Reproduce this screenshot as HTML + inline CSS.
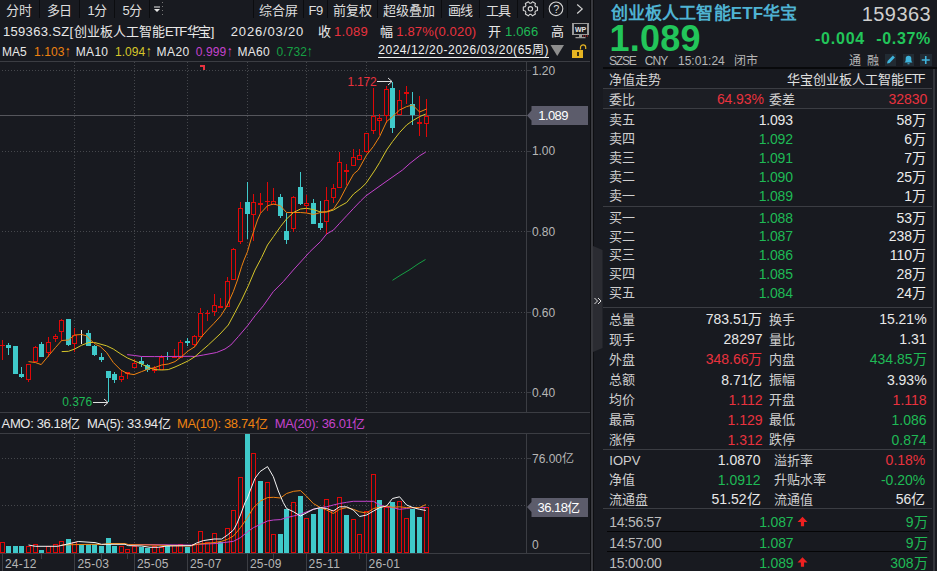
<!DOCTYPE html>
<html lang="zh-CN"><head><meta charset="utf-8"><title>159363.SZ</title>
<style>
html,body{margin:0;padding:0;background:#181a20;}
body{width:937px;height:571px;overflow:hidden;position:relative;font-family:"Liberation Sans",sans-serif;}
#app{position:absolute;left:0;top:0;width:937px;height:571px;background:#181a20;overflow:hidden;}
#app svg{position:absolute;left:0;top:0;}
#app span{position:absolute;white-space:nowrap;}
</style></head><body><div id="app">
<svg width="937" height="571" viewBox="0 0 937 571" shape-rendering="crispEdges">
<rect x="39" y="0" width="1" height="18" fill="#0b0c0f" />
<rect x="79" y="0" width="1" height="18" fill="#0b0c0f" />
<rect x="114" y="0" width="1" height="18" fill="#0b0c0f" />
<rect x="149" y="0" width="1" height="18" fill="#0b0c0f" />
<rect x="253" y="0" width="1" height="18" fill="#0b0c0f" />
<rect x="303" y="0" width="1" height="18" fill="#0b0c0f" />
<rect x="327" y="0" width="1" height="18" fill="#0b0c0f" />
<rect x="377" y="0" width="1" height="18" fill="#0b0c0f" />
<rect x="441" y="0" width="1" height="18" fill="#0b0c0f" />
<rect x="479" y="0" width="1" height="18" fill="#0b0c0f" />
<rect x="517" y="0" width="1" height="18" fill="#0b0c0f" />
<rect x="543" y="0" width="1" height="18" fill="#0b0c0f" />
<rect x="567" y="0" width="1" height="18" fill="#0b0c0f" />
<rect x="0" y="61" width="590" height="1" fill="#3b3d43" />
<rect x="0" y="412" width="590" height="1" fill="#3b3d43" />
<rect x="0" y="433" width="590" height="1" fill="#3b3d43" />
<rect x="0" y="553" width="590" height="1" fill="#3b3d43" />
<rect x="526" y="61" width="1" height="351" fill="#3b3d43" />
<rect x="526" y="433" width="1" height="120" fill="#3b3d43" />
<rect x="590" y="0" width="1" height="571" fill="#0d0e11" />
<rect x="591" y="0" width="2" height="571" fill="#38393e" />
<rect x="593" y="0" width="1" height="571" fill="#0d0e11" />
<line x1="-1" y1="70.5" x2="526" y2="70.5" stroke="#45474c" stroke-width="1" stroke-dasharray="1 2"/>
<rect x="526" y="70" width="5" height="1" fill="#3b3d43" />
<line x1="-1" y1="151.5" x2="526" y2="151.5" stroke="#45474c" stroke-width="1" stroke-dasharray="1 2"/>
<rect x="526" y="151" width="5" height="1" fill="#3b3d43" />
<line x1="-1" y1="231.5" x2="526" y2="231.5" stroke="#45474c" stroke-width="1" stroke-dasharray="1 2"/>
<rect x="526" y="231" width="5" height="1" fill="#3b3d43" />
<line x1="-1" y1="312.5" x2="526" y2="312.5" stroke="#45474c" stroke-width="1" stroke-dasharray="1 2"/>
<rect x="526" y="312" width="5" height="1" fill="#3b3d43" />
<line x1="-1" y1="392.5" x2="526" y2="392.5" stroke="#45474c" stroke-width="1" stroke-dasharray="1 2"/>
<rect x="526" y="392" width="5" height="1" fill="#3b3d43" />
<line x1="74.5" y1="62" x2="74.5" y2="412" stroke="#45474c" stroke-width="1" stroke-dasharray="1 2"/>
<line x1="74.5" y1="434" x2="74.5" y2="553" stroke="#45474c" stroke-width="1" stroke-dasharray="1 2"/>
<line x1="134.5" y1="62" x2="134.5" y2="412" stroke="#45474c" stroke-width="1" stroke-dasharray="1 2"/>
<line x1="134.5" y1="434" x2="134.5" y2="553" stroke="#45474c" stroke-width="1" stroke-dasharray="1 2"/>
<line x1="187.5" y1="62" x2="187.5" y2="412" stroke="#45474c" stroke-width="1" stroke-dasharray="1 2"/>
<line x1="187.5" y1="434" x2="187.5" y2="553" stroke="#45474c" stroke-width="1" stroke-dasharray="1 2"/>
<line x1="247.5" y1="62" x2="247.5" y2="412" stroke="#45474c" stroke-width="1" stroke-dasharray="1 2"/>
<line x1="247.5" y1="434" x2="247.5" y2="553" stroke="#45474c" stroke-width="1" stroke-dasharray="1 2"/>
<line x1="306.5" y1="62" x2="306.5" y2="412" stroke="#45474c" stroke-width="1" stroke-dasharray="1 2"/>
<line x1="306.5" y1="434" x2="306.5" y2="553" stroke="#45474c" stroke-width="1" stroke-dasharray="1 2"/>
<line x1="366.5" y1="62" x2="366.5" y2="412" stroke="#45474c" stroke-width="1" stroke-dasharray="1 2"/>
<line x1="366.5" y1="434" x2="366.5" y2="553" stroke="#45474c" stroke-width="1" stroke-dasharray="1 2"/>
<line x1="-1" y1="458.5" x2="526" y2="458.5" stroke="#45474c" stroke-width="1" stroke-dasharray="1 2"/>
<rect x="526" y="458" width="5" height="1" fill="#3b3d43" />
<line x1="-1" y1="505.5" x2="526" y2="505.5" stroke="#45474c" stroke-width="1" stroke-dasharray="1 2"/>
<rect x="2" y="553" width="1" height="18" fill="#3b3d43" />
<rect x="74" y="553" width="1" height="18" fill="#3b3d43" />
<rect x="134" y="553" width="1" height="18" fill="#3b3d43" />
<rect x="187" y="553" width="1" height="18" fill="#3b3d43" />
<rect x="247" y="553" width="1" height="18" fill="#3b3d43" />
<rect x="306" y="553" width="1" height="18" fill="#3b3d43" />
<rect x="366" y="553" width="1" height="18" fill="#3b3d43" />
<rect x="41" y="553" width="1" height="6" fill="#3b3d43" />
<rect x="101" y="553" width="1" height="6" fill="#3b3d43" />
<rect x="127" y="553" width="1" height="6" fill="#3b3d43" />
<rect x="273" y="553" width="1" height="6" fill="#3b3d43" />
<rect x="359" y="553" width="1" height="6" fill="#3b3d43" />
<rect x="0" y="115" width="527" height="1" fill="#55565c" />
<rect x="2" y="340" width="1" height="5" fill="#df0808" />
<rect x="2" y="346" width="1" height="14" fill="#df0808" />
<rect x="0" y="345" width="5" height="1" fill="#df0808" />
<rect x="8" y="343" width="1" height="12" fill="#3fc9ca" />
<rect x="6" y="345" width="5" height="3" fill="#3fc9ca" />
<rect x="15" y="346" width="1" height="28" fill="#3fc9ca" />
<rect x="13" y="346" width="5" height="28" fill="#3fc9ca" />
<rect x="21" y="367" width="1" height="11" fill="#3fc9ca" />
<rect x="19" y="374" width="5" height="3" fill="#3fc9ca" />
<rect x="28" y="380" width="1" height="2" fill="#df0808" />
<rect x="26.5" y="364.5" width="4" height="15" fill="#181a20" stroke="#df0808" stroke-width="1"/>
<rect x="35" y="346" width="1" height="1" fill="#df0808" />
<rect x="33.5" y="347.5" width="4" height="14" fill="#181a20" stroke="#df0808" stroke-width="1"/>
<rect x="41" y="342" width="1" height="15" fill="#3fc9ca" />
<rect x="39" y="344" width="5" height="13" fill="#3fc9ca" />
<rect x="48" y="337" width="1" height="5" fill="#df0808" />
<rect x="48" y="353" width="1" height="4.4" fill="#df0808" />
<rect x="46.5" y="342.5" width="4" height="10" fill="#181a20" stroke="#df0808" stroke-width="1"/>
<rect x="55" y="334" width="1" height="2" fill="#df0808" />
<rect x="55" y="339" width="1" height="3" fill="#df0808" />
<rect x="53.5" y="336.5" width="4" height="2" fill="#181a20" stroke="#df0808" stroke-width="1"/>
<rect x="61" y="318.6" width="1" height="1.4" fill="#df0808" />
<rect x="61" y="332" width="1" height="8.8" fill="#df0808" />
<rect x="59.5" y="320.5" width="4" height="11" fill="#181a20" stroke="#df0808" stroke-width="1"/>
<rect x="68" y="319" width="1" height="27.3" fill="#3fc9ca" />
<rect x="66" y="319" width="5" height="26" fill="#3fc9ca" />
<rect x="74" y="328.3" width="1" height="6.7" fill="#df0808" />
<rect x="74" y="344" width="1" height="8" fill="#df0808" />
<rect x="72.5" y="335.5" width="4" height="8" fill="#181a20" stroke="#df0808" stroke-width="1"/>
<rect x="81" y="330" width="1" height="14" fill="#f0f0f0" />
<rect x="88" y="330" width="1" height="15.8" fill="#3fc9ca" />
<rect x="86" y="333" width="5" height="13" fill="#3fc9ca" />
<rect x="94" y="344.6" width="1" height="11.7" fill="#3fc9ca" />
<rect x="92" y="346" width="5" height="9" fill="#3fc9ca" />
<rect x="101" y="353.3" width="1" height="8.7" fill="#3fc9ca" />
<rect x="99" y="357" width="5" height="3" fill="#3fc9ca" />
<rect x="108" y="371" width="1" height="30.5" fill="#3fc9ca" />
<rect x="106" y="371" width="5" height="7" fill="#3fc9ca" />
<rect x="114" y="372" width="1" height="11" fill="#3fc9ca" />
<rect x="112" y="374" width="5" height="6" fill="#3fc9ca" />
<rect x="121" y="370.8" width="1" height="5.2" fill="#df0808" />
<rect x="121" y="380" width="1" height="2" fill="#df0808" />
<rect x="119.5" y="376.5" width="4" height="3" fill="#181a20" stroke="#df0808" stroke-width="1"/>
<rect x="127" y="371.6" width="1" height="0.4" fill="#df0808" />
<rect x="127" y="374" width="1" height="5" fill="#df0808" />
<rect x="125" y="372" width="5" height="2" fill="#df0808" />
<rect x="134" y="358.5" width="1" height="4.5" fill="#df0808" />
<rect x="132.5" y="363.5" width="4" height="4" fill="#181a20" stroke="#df0808" stroke-width="1"/>
<rect x="141" y="356.8" width="1" height="10" fill="#3fc9ca" />
<rect x="139" y="361" width="5" height="3" fill="#3fc9ca" />
<rect x="147" y="364" width="1" height="8" fill="#3fc9ca" />
<rect x="145" y="365" width="5" height="5" fill="#3fc9ca" />
<rect x="154" y="366.3" width="1" height="1.7" fill="#df0808" />
<rect x="154" y="371" width="1" height="1.5" fill="#df0808" />
<rect x="152.5" y="368.5" width="4" height="2" fill="#181a20" stroke="#df0808" stroke-width="1"/>
<rect x="161" y="355" width="1" height="2" fill="#df0808" />
<rect x="159.5" y="357.5" width="4" height="12" fill="#181a20" stroke="#df0808" stroke-width="1"/>
<rect x="167" y="351.6" width="1" height="8.4" fill="#3fc9ca" />
<rect x="174" y="349" width="1" height="8" fill="#df0808" />
<rect x="174" y="358" width="1" height="0.3" fill="#df0808" />
<rect x="172" y="357" width="5" height="1" fill="#df0808" />
<rect x="180" y="340" width="1" height="2" fill="#df0808" />
<rect x="180" y="358" width="1" height="0.3" fill="#df0808" />
<rect x="178.5" y="342.5" width="4" height="15" fill="#181a20" stroke="#df0808" stroke-width="1"/>
<rect x="187" y="338" width="1" height="7.8" fill="#3fc9ca" />
<rect x="185" y="341" width="5" height="2" fill="#3fc9ca" />
<rect x="194" y="335" width="1" height="1" fill="#df0808" />
<rect x="194" y="345" width="1" height="1.6" fill="#df0808" />
<rect x="192.5" y="336.5" width="4" height="8" fill="#181a20" stroke="#df0808" stroke-width="1"/>
<rect x="200" y="307.5" width="1" height="5.5" fill="#df0808" />
<rect x="198.5" y="313.5" width="4" height="23" fill="#181a20" stroke="#df0808" stroke-width="1"/>
<rect x="207" y="310.3" width="1" height="2.7" fill="#df0808" />
<rect x="207" y="314" width="1" height="6.8" fill="#df0808" />
<rect x="205" y="313" width="5" height="1" fill="#df0808" />
<rect x="214" y="294" width="1" height="11" fill="#df0808" />
<rect x="214" y="312" width="1" height="3.8" fill="#df0808" />
<rect x="212.5" y="305.5" width="4" height="6" fill="#181a20" stroke="#df0808" stroke-width="1"/>
<rect x="220" y="297.5" width="1" height="8.5" fill="#df0808" />
<rect x="218" y="306" width="5" height="2" fill="#df0808" />
<rect x="227" y="277" width="1" height="4" fill="#df0808" />
<rect x="225.5" y="281.5" width="4" height="25" fill="#181a20" stroke="#df0808" stroke-width="1"/>
<rect x="233" y="248" width="1" height="1" fill="#df0808" />
<rect x="231.5" y="249.5" width="4" height="30" fill="#181a20" stroke="#df0808" stroke-width="1"/>
<rect x="240" y="202" width="1" height="6" fill="#df0808" />
<rect x="240" y="242" width="1" height="1.6" fill="#df0808" />
<rect x="238.5" y="208.5" width="4" height="33" fill="#181a20" stroke="#df0808" stroke-width="1"/>
<rect x="247" y="181.6" width="1" height="57.4" fill="#3fc9ca" />
<rect x="245" y="202" width="5" height="12" fill="#3fc9ca" />
<rect x="253" y="194" width="1" height="8" fill="#df0808" />
<rect x="253" y="215" width="1" height="25.8" fill="#df0808" />
<rect x="251.5" y="202.5" width="4" height="12" fill="#181a20" stroke="#df0808" stroke-width="1"/>
<rect x="260" y="193.3" width="1" height="9.7" fill="#df0808" />
<rect x="260" y="205" width="1" height="8.3" fill="#df0808" />
<rect x="258" y="203" width="5" height="2" fill="#df0808" />
<rect x="267" y="182" width="1" height="19" fill="#df0808" />
<rect x="267" y="202" width="1" height="9.3" fill="#df0808" />
<rect x="265" y="201" width="5" height="1" fill="#df0808" />
<rect x="273" y="188" width="1" height="13" fill="#df0808" />
<rect x="271.5" y="201.5" width="4" height="3" fill="#181a20" stroke="#df0808" stroke-width="1"/>
<rect x="280" y="194" width="1" height="24" fill="#3fc9ca" />
<rect x="278" y="197" width="5" height="19" fill="#3fc9ca" />
<rect x="286" y="212.5" width="1" height="31.5" fill="#3fc9ca" />
<rect x="284" y="231" width="5" height="9" fill="#3fc9ca" />
<rect x="293" y="196" width="1" height="1" fill="#df0808" />
<rect x="293" y="229" width="1" height="3" fill="#df0808" />
<rect x="291.5" y="197.5" width="4" height="31" fill="#181a20" stroke="#df0808" stroke-width="1"/>
<rect x="300" y="172" width="1" height="33" fill="#3fc9ca" />
<rect x="298" y="187" width="5" height="17" fill="#3fc9ca" />
<rect x="306" y="195" width="1" height="8" fill="#df0808" />
<rect x="306" y="206" width="1" height="7.3" fill="#df0808" />
<rect x="304.5" y="203.5" width="4" height="2" fill="#181a20" stroke="#df0808" stroke-width="1"/>
<rect x="313" y="199" width="1" height="24.6" fill="#3fc9ca" />
<rect x="311" y="203" width="5" height="21" fill="#3fc9ca" />
<rect x="320" y="200.8" width="1" height="29.2" fill="#3fc9ca" />
<rect x="318" y="223" width="5" height="5" fill="#3fc9ca" />
<rect x="326" y="187" width="1" height="13" fill="#df0808" />
<rect x="326" y="222" width="1" height="12" fill="#df0808" />
<rect x="324.5" y="200.5" width="4" height="21" fill="#181a20" stroke="#df0808" stroke-width="1"/>
<rect x="333" y="184" width="1" height="4" fill="#df0808" />
<rect x="333" y="198" width="1" height="5" fill="#df0808" />
<rect x="331.5" y="188.5" width="4" height="9" fill="#181a20" stroke="#df0808" stroke-width="1"/>
<rect x="339" y="152" width="1" height="10" fill="#df0808" />
<rect x="337.5" y="162.5" width="4" height="25" fill="#181a20" stroke="#df0808" stroke-width="1"/>
<rect x="346" y="164" width="1" height="6" fill="#df0808" />
<rect x="346" y="172" width="1" height="13" fill="#df0808" />
<rect x="344" y="170" width="5" height="2" fill="#df0808" />
<rect x="353" y="149" width="1" height="8" fill="#df0808" />
<rect x="351.5" y="157.5" width="4" height="8" fill="#181a20" stroke="#df0808" stroke-width="1"/>
<rect x="359" y="149" width="1" height="6" fill="#df0808" />
<rect x="357.5" y="155.5" width="4" height="4" fill="#181a20" stroke="#df0808" stroke-width="1"/>
<rect x="366" y="152" width="1" height="0.5" fill="#df0808" />
<rect x="364.5" y="133.5" width="4" height="18" fill="#181a20" stroke="#df0808" stroke-width="1"/>
<rect x="373" y="88" width="1" height="28" fill="#df0808" />
<rect x="373" y="131" width="1" height="3" fill="#df0808" />
<rect x="371.5" y="116.5" width="4" height="14" fill="#181a20" stroke="#df0808" stroke-width="1"/>
<rect x="379" y="114" width="1" height="4" fill="#df0808" />
<rect x="379" y="121" width="1" height="14" fill="#df0808" />
<rect x="377.5" y="118.5" width="4" height="2" fill="#181a20" stroke="#df0808" stroke-width="1"/>
<rect x="386" y="85.8" width="1" height="3.2" fill="#df0808" />
<rect x="386" y="116" width="1" height="6.5" fill="#df0808" />
<rect x="384.5" y="89.5" width="4" height="26" fill="#181a20" stroke="#df0808" stroke-width="1"/>
<rect x="392" y="81.6" width="1" height="51.7" fill="#3fc9ca" />
<rect x="390" y="88" width="5" height="40" fill="#3fc9ca" />
<rect x="399" y="90" width="1" height="10" fill="#df0808" />
<rect x="397.5" y="100.5" width="4" height="14" fill="#181a20" stroke="#df0808" stroke-width="1"/>
<rect x="406" y="85.8" width="1" height="6.2" fill="#df0808" />
<rect x="406" y="94" width="1" height="10" fill="#df0808" />
<rect x="404" y="92" width="5" height="2" fill="#df0808" />
<rect x="412" y="91.6" width="1" height="33.4" fill="#3fc9ca" />
<rect x="410" y="104" width="5" height="11" fill="#3fc9ca" />
<rect x="419" y="95.8" width="1" height="26.2" fill="#df0808" />
<rect x="419" y="124" width="1" height="11.8" fill="#df0808" />
<rect x="417" y="122" width="5" height="2" fill="#df0808" />
<rect x="426" y="99" width="1" height="17" fill="#df0808" />
<rect x="426" y="124" width="1" height="13" fill="#df0808" />
<rect x="424.5" y="116.5" width="4" height="7" fill="#181a20" stroke="#df0808" stroke-width="1"/>
<rect x="0.5" y="542.5" width="4" height="10" fill="#181a20" stroke="#df0808" stroke-width="1"/>
<rect x="6" y="546" width="5" height="7" fill="#3fc9ca" />
<rect x="13" y="546" width="5" height="7" fill="#3fc9ca" />
<rect x="19" y="546" width="5" height="7" fill="#3fc9ca" />
<rect x="26.5" y="546.5" width="4" height="6" fill="#181a20" stroke="#df0808" stroke-width="1"/>
<rect x="33.5" y="544.5" width="4" height="8" fill="#181a20" stroke="#df0808" stroke-width="1"/>
<rect x="39" y="550" width="5" height="3" fill="#3fc9ca" />
<rect x="46.5" y="546.5" width="4" height="6" fill="#181a20" stroke="#df0808" stroke-width="1"/>
<rect x="53.5" y="544.5" width="4" height="8" fill="#181a20" stroke="#df0808" stroke-width="1"/>
<rect x="59.5" y="541.5" width="4" height="11" fill="#181a20" stroke="#df0808" stroke-width="1"/>
<rect x="66" y="539" width="5" height="14" fill="#3fc9ca" />
<rect x="72.5" y="542.5" width="4" height="10" fill="#181a20" stroke="#df0808" stroke-width="1"/>
<rect x="79" y="544" width="5" height="9" fill="#3fc9ca" />
<rect x="86" y="544" width="5" height="9" fill="#3fc9ca" />
<rect x="92" y="544" width="5" height="9" fill="#3fc9ca" />
<rect x="99" y="546" width="5" height="7" fill="#3fc9ca" />
<rect x="106" y="538" width="5" height="15" fill="#3fc9ca" />
<rect x="112" y="546" width="5" height="7" fill="#3fc9ca" />
<rect x="119.5" y="546.5" width="4" height="6" fill="#181a20" stroke="#df0808" stroke-width="1"/>
<rect x="125.5" y="549.5" width="4" height="3" fill="#181a20" stroke="#df0808" stroke-width="1"/>
<rect x="132.5" y="546.5" width="4" height="6" fill="#181a20" stroke="#df0808" stroke-width="1"/>
<rect x="139" y="547" width="5" height="6" fill="#3fc9ca" />
<rect x="145" y="548" width="5" height="5" fill="#3fc9ca" />
<rect x="152.5" y="546.5" width="4" height="6" fill="#181a20" stroke="#df0808" stroke-width="1"/>
<rect x="159.5" y="547.5" width="4" height="5" fill="#181a20" stroke="#df0808" stroke-width="1"/>
<rect x="165" y="546" width="5" height="7" fill="#3fc9ca" />
<rect x="172.5" y="545.5" width="4" height="7" fill="#181a20" stroke="#df0808" stroke-width="1"/>
<rect x="178.5" y="544.5" width="4" height="8" fill="#181a20" stroke="#df0808" stroke-width="1"/>
<rect x="185" y="547" width="5" height="6" fill="#3fc9ca" />
<rect x="192.5" y="544.5" width="4" height="8" fill="#181a20" stroke="#df0808" stroke-width="1"/>
<rect x="198.5" y="531.5" width="4" height="21" fill="#181a20" stroke="#df0808" stroke-width="1"/>
<rect x="205.5" y="542.5" width="4" height="10" fill="#181a20" stroke="#df0808" stroke-width="1"/>
<rect x="212.5" y="533.5" width="4" height="19" fill="#181a20" stroke="#df0808" stroke-width="1"/>
<rect x="218" y="542" width="5" height="11" fill="#3fc9ca" />
<rect x="225.5" y="528.5" width="4" height="24" fill="#181a20" stroke="#df0808" stroke-width="1"/>
<rect x="231.5" y="510.5" width="4" height="42" fill="#181a20" stroke="#df0808" stroke-width="1"/>
<rect x="238.5" y="477.5" width="4" height="75" fill="#181a20" stroke="#df0808" stroke-width="1"/>
<rect x="245" y="434" width="5" height="119" fill="#3fc9ca" />
<rect x="251.5" y="453.5" width="4" height="99" fill="#181a20" stroke="#df0808" stroke-width="1"/>
<rect x="258" y="481" width="5" height="72" fill="#3fc9ca" />
<rect x="265.5" y="482.5" width="4" height="70" fill="#181a20" stroke="#df0808" stroke-width="1"/>
<rect x="271.5" y="534.5" width="4" height="18" fill="#181a20" stroke="#df0808" stroke-width="1"/>
<rect x="278" y="534" width="5" height="19" fill="#3fc9ca" />
<rect x="284" y="509" width="5" height="44" fill="#3fc9ca" />
<rect x="291.5" y="502.5" width="4" height="50" fill="#181a20" stroke="#df0808" stroke-width="1"/>
<rect x="298" y="496" width="5" height="57" fill="#3fc9ca" />
<rect x="304.5" y="518.5" width="4" height="34" fill="#181a20" stroke="#df0808" stroke-width="1"/>
<rect x="311" y="514" width="5" height="39" fill="#3fc9ca" />
<rect x="318" y="508" width="5" height="45" fill="#3fc9ca" />
<rect x="324.5" y="499.5" width="4" height="53" fill="#181a20" stroke="#df0808" stroke-width="1"/>
<rect x="331.5" y="510.5" width="4" height="42" fill="#181a20" stroke="#df0808" stroke-width="1"/>
<rect x="337.5" y="497.5" width="4" height="55" fill="#181a20" stroke="#df0808" stroke-width="1"/>
<rect x="344" y="515" width="5" height="38" fill="#3fc9ca" />
<rect x="351.5" y="519.5" width="4" height="33" fill="#181a20" stroke="#df0808" stroke-width="1"/>
<rect x="357.5" y="534.5" width="4" height="18" fill="#181a20" stroke="#df0808" stroke-width="1"/>
<rect x="364.5" y="511.5" width="4" height="41" fill="#181a20" stroke="#df0808" stroke-width="1"/>
<rect x="371.5" y="474.5" width="4" height="78" fill="#181a20" stroke="#df0808" stroke-width="1"/>
<rect x="377" y="500" width="5" height="53" fill="#3fc9ca" />
<rect x="384.5" y="507.5" width="4" height="45" fill="#181a20" stroke="#df0808" stroke-width="1"/>
<rect x="390" y="502" width="5" height="51" fill="#3fc9ca" />
<rect x="397.5" y="501.5" width="4" height="51" fill="#181a20" stroke="#df0808" stroke-width="1"/>
<rect x="404.5" y="518.5" width="4" height="34" fill="#181a20" stroke="#df0808" stroke-width="1"/>
<rect x="410" y="509" width="5" height="44" fill="#3fc9ca" />
<rect x="417" y="517" width="5" height="36" fill="#3fc9ca" />
<rect x="424.5" y="507.5" width="4" height="45" fill="#181a20" stroke="#df0808" stroke-width="1"/>
<line x1="162.5" y1="2" x2="162.5" y2="17" stroke="#777" stroke-width="1" stroke-dasharray="1 3"/>
<rect x="573" y="23.5" width="15" height="11" fill="none" stroke="#9a9a9a" stroke-width="1.2"/>
<rect x="572" y="49.5" width="11" height="8" fill="#e6b422"/>
<rect x="576.5" y="51.5" width="2" height="4" fill="#3a3010"/>
<rect x="933" y="67" width="2" height="504" fill="#33353b" />
<rect x="603" y="67" width="334" height="2" fill="#08090b" />
<rect x="603" y="89" width="330" height="19" fill="#1c1e24" />
<rect x="603" y="88" width="329" height="1" fill="#3b3d43" />
<rect x="603" y="108" width="329" height="1" fill="#3b3d43" />
<rect x="603" y="206" width="329" height="1" fill="#3b3d43" />
<rect x="603" y="307" width="329" height="1" fill="#3b3d43" />
<rect x="603" y="449" width="329" height="1" fill="#3b3d43" />
<rect x="603" y="508" width="329" height="1" fill="#3b3d43" />
<rect x="607" y="531" width="322" height="1" fill="#050506" />
<rect x="607" y="551" width="322" height="1" fill="#050506" />
<rect x="884.5" y="54" width="11.5" height="12" fill="#222b33" />
<rect x="902.5" y="54" width="11.5" height="12" fill="#222b33" />
<rect x="920" y="54" width="11.5" height="12" fill="#222b33" />
</svg>
<svg width="937" height="571" viewBox="0 0 937 571">
<polyline points="127.2,354.6 134.7,355.5 141.7,356.5 154.7,356.6 190.8,356.3 195,356.5 203.3,355 216.6,352.5 225,349 230.8,345 238.3,336.6 247.5,325.8 255,315.8 263.3,305.8 273.3,291.6 283.3,281.6 293.3,270 303.3,259 310,251.6 320.5,241.6 326.6,234 333.5,230 339.6,223.3 346.6,215.8 353.6,208.3 360.8,200.8 366,195.8 384,183 402.5,170 410,163.3 419.6,155.8 425.8,152" fill="none" stroke="#c443cc" stroke-width="1.0" stroke-linejoin="round"/>
<polyline points="392.5,280.3 400,275.5 410,269.5 418,264 425.5,259.5" fill="none" stroke="#16a044" stroke-width="1.0" stroke-linejoin="round"/>
<polyline points="61.7,351.6 68.5,351.3 74.7,349 81.5,345.3 88.7,342.5 94.7,342.5 100,344 106.6,345.8 113.3,349 120.8,354 127.5,358 134,360.8 141.6,364 148.3,367.5 155,369.6 161.6,370 168.3,369.6 175,367 181.6,364 188.3,360.8 195,356.6 201.6,350.8 208.3,345 220,334 228.3,325 235,312.5 241.6,300 248.3,285.8 255,270 261.6,257.5 267.5,245 273.5,236.6 280.5,226.6 286.5,219 293.5,212.5 300.5,209 306.6,208.3 313.5,209.6 320.5,212 326.6,212 333.5,210 339.6,206.3 346.6,202.5 353.6,194 360.8,188.3 366,183.3 375,170 379.6,162.5 386.6,150 392.5,141.6 399.6,132.5 406.6,125 412.5,120.8 419.6,116.6 425.8,114" fill="none" stroke="#d6c62a" stroke-width="1.0" stroke-linejoin="round"/>
<polyline points="28.5,361.6 35.3,362.5 41.2,364.6 48.5,355.8 55.5,347.5 61.7,340.5 68.5,340 74.7,335 81.5,334.5 86.7,335.8 91.3,340.8 96.7,345 100,346.3 106.6,352.5 113.3,362.5 120.8,370 127.5,373.6 134,374.6 141.6,371.6 148.3,369 155,367.5 161.6,365 168.3,364 175,361.6 181.6,356.6 188.3,350.8 195,346.6 201.6,336.6 207.5,330 214,323.3 220.8,315.8 226.6,306.6 233.3,291.6 237.5,280 241.6,266.6 244,260 247.5,251.6 250.8,240 253.6,231.6 257.5,220 260.5,213.3 267.5,205.8 273.5,204 280.5,205.8 286.5,212.5 293.5,212.5 300.5,212.5 306.6,213 313.5,214.5 320.5,212.5 326.6,211.6 333.5,209 339.6,200 346.6,186.6 353.6,174 358.3,170 366.6,155 373.3,146.6 379.6,136.6 386.6,121.6 392.5,116.6 399.6,110 406.6,106.6 412.5,105 419.6,112 426.6,109" fill="none" stroke="#ee8210" stroke-width="1.0" stroke-linejoin="round"/>
<path d="M200 65h5v5h-2v-3h-3z" fill="#e8323e"/>
<path d="M377 81.5h15M388 78l4 3.5l-4 3.5" fill="none" stroke="#e0e0e0" stroke-width="1"/>
<path d="M93 402.5h15M104 399l4 3.5l-4 3.5" fill="none" stroke="#e0e0e0" stroke-width="1"/>
<polyline points="127.5,544.6 150,544.6 191.6,545.1 198.3,544.3 216.6,543.5 233.5,541.3 240.5,537.6 247.5,531.8 253.5,527.6 260.5,524.3 267.5,521 273.5,520 280.5,519.6 286.6,517.6 293.6,516 300.5,514.2 313.3,509.3 320.5,507.6 326.6,506.8 333.3,505 339.6,503.5 346.6,502.3 353.3,501.3 366.6,501.3 373.5,501.3 379.6,505 386.6,506.8 392.5,507.6 399.6,509.3 406.6,508.5 413,507.6 419.6,507.6 425.8,507.6" fill="none" stroke="#c443cc" stroke-width="1.0" stroke-linejoin="round"/>
<polyline points="61.6,545 75,544.6 95,544.3 101.5,544.6 108.3,543.5 125,543.5 128.3,544.6 150,545 190,546 196.6,544.3 214,542.6 221.6,541.3 227.5,539.3 233.5,536 240.5,527.6 247.5,517.6 253.5,507.6 260.5,501 267.5,497.6 273.5,497.3 280.5,498 286.6,493.5 293.6,491.3 300.5,490.6 306.3,496 313.3,503.5 320.5,507.6 326.6,510 333.3,513.5 339.6,509.3 346.6,507.6 353.3,509.3 359.6,511.8 366.6,513 373.5,508.5 379.6,507.3 386.6,506 392.5,507.3 399.6,506.8 406.6,507.6 413,507.6 419.6,507.6 425.8,504.6" fill="none" stroke="#ee8210" stroke-width="1.0" stroke-linejoin="round"/>
<polyline points="28.5,545 35.3,546.3 57.5,546.3 66.6,544.3 78.3,541.5 95,542.6 101.5,544.3 125,544.3 128.3,545.6 141.6,546 150,547.3 158.3,547.3 166.6,546 191.6,545.6 196.6,543 203.3,540.6 214,539 221.6,539 227.5,535 233.5,530 236.6,524.3 240.5,515 245,502.6 247.5,498 250,491 255,478.3 260,471.6 267.5,466.6 273.3,476.6 278.3,491 283.3,502.6 286.6,508.5 293.6,511.8 300.5,516 313.3,509.3 320.5,507.6 326.6,508.5 333.3,511 339.6,506.8 346.6,506.8 353.3,510 359.6,516.5 366.6,515 373.5,511 379.6,507.6 386.6,506 392.5,498.5 399.6,496.8 406.6,505 413,507.6 419.6,509.3 425.8,510.5" fill="none" stroke="#f4f4f4" stroke-width="1.0" stroke-linejoin="round"/>
<path d="M527 115.5l4.5-5v-4.5h56.5v19h-56.5v-4.5z" fill="#5c5c6b"/>
<path d="M527 507l4.5-5v-4h56.5v19h-56.5v-5z" fill="#5c5c6b"/>
<path d="M154 6.5h6v1h-6zM154 9h6l-3 3z" fill="#e8e8e8"/>
<path d="M537.49 7.06 L537.49 10.54 L535.56 10.98 L534.87 12.18 L535.45 14.07 L532.44 15.81 L531.09 14.36 L529.71 14.36 L528.36 15.81 L525.35 14.07 L525.93 12.18 L525.24 10.98 L523.31 10.54 L523.31 7.06 L525.24 6.62 L525.93 5.42 L525.35 3.53 L528.36 1.79 L529.71 3.24 L531.09 3.24 L532.44 1.79 L535.45 3.53 L534.87 5.42 L535.56 6.62Z" fill="none" stroke="#d4d4d4" stroke-width="1.1" stroke-linejoin="round"/>
<circle cx="530.4" cy="8.8" r="2.2" fill="none" stroke="#d4d4d4" stroke-width="1.1"/>
<circle cx="556" cy="8.8" r="6.8" fill="none" stroke="#d4d4d4" stroke-width="1.1"/>
<path d="M577.2 4.5l5 4.4l-5 4.6" fill="none" stroke="#d4d4d4" stroke-width="1.2"/>
<path d="M579 35h3v2h-3zM575.5 37h10v1.2h-10z" fill="#9a9a9a"/>
<path d="M583 36h5" stroke="#e02020" stroke-width="1" stroke-dasharray="1 1"/>
<path d="M550.5 45h13.5l-6.75 11z" fill="#8e8e8e"/>
<path d="M580.5 49.5v-2a2.6 2.6 0 0 1 5.2 0v1.5" fill="none" stroke="#e6b422" stroke-width="1.2"/>
<path d="M593 246l9.5 4v98l-9.5 4z" fill="#2b2c32"/>
<path d="M594.5 298l3 3l-3 3M598 298l3 3l-3 3" fill="none" stroke="#e0e0e0" stroke-width="1"/>
<path d="M887 63.5l0.6-2.6l5.3-5.3l2 2l-5.3 5.3z" fill="#3fb4dc"/>
<path d="M904.5 62.5h8c-1.2-1-1.2-2-1.2-4a2.8 2.8 0 0 0-5.6 0c0 2 0 3-1.2 4zM907.5 63.3h2v1h-2z" fill="#3fb4dc"/>
<path d="M925.75 56v8M921.75 60h8" stroke="#3fb4dc" stroke-width="1.6"/>
<path d="M797.5 522l5-5.2l5 5.2h-3.4v4.2h-3.2v-4.2z" fill="#ee2020"/>
<path d="M797.5 562.5l5-5.2l5 5.2h-3.4v4.2h-3.2v-4.2z" fill="#ee2020"/>
</svg>
<span id="t0" style="top:1.5px;font-size:13px;line-height:17px;color:#dedede;left:6.3px;letter-spacing:-0.35px;">分时</span>
<span id="t1" style="top:1.5px;font-size:13px;line-height:17px;color:#dedede;left:46.6px;letter-spacing:-0.90px;">多日</span>
<span id="t2" style="top:1.5px;font-size:13px;line-height:17px;color:#dedede;left:87.5px;letter-spacing:-0.57px;">1分</span>
<span id="t3" style="top:1.5px;font-size:13px;line-height:17px;color:#dedede;left:122.5px;letter-spacing:-0.57px;">5分</span>
<span id="t4" style="top:1.5px;font-size:13px;line-height:17px;color:#dedede;left:259.0px;letter-spacing:-0.17px;">综合屏</span>
<span id="t5" style="top:1.5px;font-size:13px;line-height:17px;color:#dedede;left:308.6px;letter-spacing:-0.64px;">F9</span>
<span id="t6" style="top:1.5px;font-size:13px;line-height:17px;color:#dedede;left:333.3px;letter-spacing:-0.23px;">前复权</span>
<span id="t7" style="top:1.5px;font-size:13px;line-height:17px;color:#dedede;left:383.0px;letter-spacing:-0.10px;">超级叠加</span>
<span id="t8" style="top:1.5px;font-size:13px;line-height:17px;color:#dedede;left:447.5px;letter-spacing:-0.50px;">画线</span>
<span id="t9" style="top:1.5px;font-size:13px;line-height:17px;color:#dedede;left:485.8px;letter-spacing:-0.50px;">工具</span>
<span id="t10" style="top:2.0px;font-size:11px;line-height:14px;color:#dcdcdc;left:553.3px;letter-spacing:-0.12px;">?</span>
<span id="t11" style="top:22.8px;font-size:13px;line-height:17px;color:#e8e8e8;left:3.0px;letter-spacing:0.31px;">159363.SZ[</span>
<span id="t12" style="top:22.8px;font-size:13px;line-height:17px;color:#e8e8e8;left:73.6px;letter-spacing:0.00px;">创业板人工智能</span>
<span id="t13" style="top:22.8px;font-size:13px;line-height:17px;color:#e8e8e8;left:165.0px;letter-spacing:-1.20px;">ETF</span>
<span id="t14" style="top:22.8px;font-size:13px;line-height:17px;color:#e8e8e8;left:186.6px;letter-spacing:-1.20px;">华宝</span>
<span id="t15" style="top:22.8px;font-size:13px;line-height:17px;color:#e8e8e8;left:210.8px;">]</span>
<span id="t16" style="top:22.8px;font-size:13px;line-height:17px;color:#e8e8e8;left:230.8px;letter-spacing:0.81px;">2026/03/20</span>
<span id="t17" style="top:22.8px;font-size:13px;line-height:17px;color:#e8e8e8;left:317.5px;">收</span>
<span id="t18" style="top:22.8px;font-size:13px;line-height:17px;color:#e8323e;left:334.0px;letter-spacing:0.29px;">1.089</span>
<span id="t19" style="top:22.8px;font-size:13px;line-height:17px;color:#e8e8e8;left:379.6px;">幅</span>
<span id="t20" style="top:22.8px;font-size:13px;line-height:17px;color:#e8323e;left:396.3px;letter-spacing:0.16px;">1.87%(0.020)</span>
<span id="t21" style="top:22.8px;font-size:13px;line-height:17px;color:#e8e8e8;left:487.5px;">开</span>
<span id="t22" style="top:22.8px;font-size:13px;line-height:17px;color:#1fb955;left:505.0px;letter-spacing:0.15px;">1.066</span>
<span id="t23" style="top:22.8px;font-size:13px;line-height:17px;color:#e8e8e8;left:550.8px;">高</span>
<span id="t24" style="top:24.5px;font-size:7px;line-height:9px;color:#e4e4e4;left:575.0px;letter-spacing:-0.14px;font-weight:700;">WP</span>
<span id="t25" style="top:43.8px;font-size:12px;line-height:16px;color:#e8e8e8;left:2.0px;letter-spacing:-0.03px;">MA5</span>
<span id="t26" style="top:43.8px;font-size:12px;line-height:16px;color:#ee8210;left:34.0px;letter-spacing:0.09px;">1.103</span>
<span id="t27" style="top:41.3px;font-size:15px;line-height:20px;color:#ee8210;left:64.8px;transform:scaleX(0.75);transform-origin:0 50%;">↑</span>
<span id="t28" style="top:43.8px;font-size:12px;line-height:16px;color:#e8e8e8;left:75.8px;letter-spacing:0.29px;">MA10</span>
<span id="t29" style="top:43.8px;font-size:12px;line-height:16px;color:#d6c62a;left:115.0px;letter-spacing:0.05px;">1.094</span>
<span id="t30" style="top:41.3px;font-size:15px;line-height:20px;color:#d6c62a;left:145.6px;transform:scaleX(0.75);transform-origin:0 50%;">↑</span>
<span id="t31" style="top:43.8px;font-size:12px;line-height:16px;color:#e8e8e8;left:156.6px;letter-spacing:0.41px;">MA20</span>
<span id="t32" style="top:43.8px;font-size:12px;line-height:16px;color:#c443cc;left:195.8px;letter-spacing:0.07px;">0.999</span>
<span id="t33" style="top:41.3px;font-size:15px;line-height:20px;color:#c443cc;left:226.5px;transform:scaleX(0.75);transform-origin:0 50%;">↑</span>
<span id="t34" style="top:43.8px;font-size:12px;line-height:16px;color:#e8e8e8;left:237.5px;letter-spacing:0.29px;">MA60</span>
<span id="t35" style="top:43.8px;font-size:12px;line-height:16px;color:#16a044;left:276.6px;letter-spacing:0.07px;">0.732</span>
<span id="t36" style="top:41.3px;font-size:15px;line-height:20px;color:#16a044;left:307.3px;transform:scaleX(0.75);transform-origin:0 50%;">↑</span>
<span id="t37" style="top:43.8px;font-size:12px;line-height:16px;color:#f0f0f0;left:378.3px;letter-spacing:0.51px;border-bottom:1px solid #f0f0f0;height:13px;line-height:13px;">2024/12/20-2026/03/20(65周)</span>
<span id="t38" style="top:74.0px;font-size:12px;line-height:16px;color:#e8323e;left:347.5px;letter-spacing:-0.21px;">1.172</span>
<span id="t39" style="top:394.3px;font-size:12px;line-height:16px;color:#1fb955;left:62.2px;letter-spacing:-0.01px;">0.376</span>
<span id="t40" style="top:62.6px;font-size:12px;line-height:16px;color:#b6b6b6;left:532.0px;letter-spacing:-0.09px;">1.20</span>
<span id="t41" style="top:143.3px;font-size:12px;line-height:16px;color:#b6b6b6;left:532.0px;letter-spacing:-0.09px;">1.00</span>
<span id="t42" style="top:223.8px;font-size:12px;line-height:16px;color:#b6b6b6;left:532.0px;letter-spacing:-0.09px;">0.80</span>
<span id="t43" style="top:304.5px;font-size:12px;line-height:16px;color:#b6b6b6;left:532.0px;letter-spacing:-0.09px;">0.60</span>
<span id="t44" style="top:384.8px;font-size:12px;line-height:16px;color:#b6b6b6;left:532.0px;letter-spacing:-0.09px;">0.40</span>
<span id="t45" style="top:107.3px;font-size:13px;line-height:17px;color:#ffffff;left:538.3px;letter-spacing:-0.61px;">1.089</span>
<span id="t46" style="top:414.5px;font-size:13px;line-height:17px;color:#e8e8e8;left:1.6px;letter-spacing:-0.36px;">AMO: 36.18亿</span>
<span id="t47" style="top:414.5px;font-size:13px;line-height:17px;color:#e8e8e8;left:87.0px;letter-spacing:-0.37px;">MA(5): 33.94亿</span>
<span id="t48" style="top:414.5px;font-size:13px;line-height:17px;color:#ee8210;left:177.0px;letter-spacing:-0.36px;">MA(10): 38.74亿</span>
<span id="t49" style="top:414.5px;font-size:13px;line-height:17px;color:#c443cc;left:274.7px;letter-spacing:-0.36px;">MA(20): 36.01亿</span>
<span id="t50" style="top:450.8px;font-size:12px;line-height:16px;color:#b6b6b6;left:532.0px;letter-spacing:-0.01px;">76.00亿</span>
<span id="t51" style="top:498.8px;font-size:13px;line-height:17px;color:#ffffff;left:537.5px;letter-spacing:-0.51px;">36.18亿</span>
<span id="t52" style="top:537.0px;font-size:12px;line-height:16px;color:#b6b6b6;left:532.0px;">0</span>
<span id="t53" style="top:556.3px;font-size:12px;line-height:16px;color:#b6b6b6;left:5.0px;letter-spacing:0.18px;">24-12</span>
<span id="t54" style="top:556.3px;font-size:12px;line-height:16px;color:#b6b6b6;left:77.5px;letter-spacing:0.18px;">25-03</span>
<span id="t55" style="top:556.3px;font-size:12px;line-height:16px;color:#b6b6b6;left:137.0px;letter-spacing:0.18px;">25-05</span>
<span id="t56" style="top:556.3px;font-size:12px;line-height:16px;color:#b6b6b6;left:190.0px;letter-spacing:0.18px;">25-07</span>
<span id="t57" style="top:556.3px;font-size:12px;line-height:16px;color:#b6b6b6;left:250.0px;letter-spacing:0.18px;">25-09</span>
<span id="t58" style="top:556.3px;font-size:12px;line-height:16px;color:#b6b6b6;left:308.6px;letter-spacing:0.36px;">25-11</span>
<span id="t59" style="top:556.3px;font-size:12px;line-height:16px;color:#b6b6b6;left:368.6px;letter-spacing:0.18px;">26-01</span>
<span id="t60" style="top:3.0px;font-size:17px;line-height:22px;color:#4fb3d3;left:610.6px;letter-spacing:0.16px;font-weight:700;">创业板人工智能ETF华宝</span>
<span id="t61" style="top:0.7px;font-size:20px;line-height:26px;color:#cfcfcf;left:861.8px;letter-spacing:0.41px;">159363</span>
<span id="t62" style="top:15.0px;font-size:36px;line-height:47px;color:#22c55a;left:609.6px;letter-spacing:0.18px;font-weight:700;">1.089</span>
<span id="t63" style="top:27.8px;font-size:16px;line-height:21px;color:#22c55a;left:815.0px;letter-spacing:0.77px;font-weight:700;">-0.004</span>
<span id="t64" style="top:27.8px;font-size:16px;line-height:21px;color:#22c55a;left:876.3px;letter-spacing:0.67px;font-weight:700;">-0.37%</span>
<span id="t65" style="top:52.8px;font-size:12px;line-height:16px;color:#b6b6b6;left:609.0px;letter-spacing:-1.20px;">SZSE</span>
<span id="t66" style="top:52.8px;font-size:12px;line-height:16px;color:#b6b6b6;left:644.8px;letter-spacing:-0.95px;">CNY</span>
<span id="t67" style="top:52.8px;font-size:12px;line-height:16px;color:#b6b6b6;left:678.0px;letter-spacing:0.01px;">15:01:24</span>
<span id="t68" style="top:52.8px;font-size:12px;line-height:16px;color:#b6b6b6;left:733.6px;letter-spacing:0.00px;">闭市</span>
<span id="t69" style="top:52.5px;font-size:12px;line-height:16px;color:#b6b6b6;left:848.5px;">通</span>
<span id="t70" style="top:52.5px;font-size:12px;line-height:16px;color:#b6b6b6;left:866.8px;">融</span>
<span id="t71" style="top:70.7px;font-size:13px;line-height:17px;color:#cfcfcf;left:609.3px;letter-spacing:-0.18px;">净值走势</span>
<span id="t72" style="top:70.7px;font-size:13px;line-height:17px;color:#e0e0e0;left:787.4px;letter-spacing:-0.02px;">华宝创业板人工智能</span>
<span id="t73" style="top:71.2px;font-size:12px;line-height:16px;color:#e0e0e0;left:904.6px;letter-spacing:-0.96px;">ETF</span>
<span id="t74" style="top:90.8px;font-size:13px;line-height:17px;color:#cfcfcf;left:609.3px;letter-spacing:-0.20px;">委比</span>
<span id="t75" style="top:90.3px;font-size:14px;line-height:18px;color:#e8323e;letter-spacing:-0.08px;right:173.1px;">64.93%</span>
<span id="t76" style="top:90.8px;font-size:13px;line-height:17px;color:#cfcfcf;left:769.0px;letter-spacing:-0.20px;">委差</span>
<span id="t77" style="top:90.3px;font-size:14px;line-height:18px;color:#e8323e;letter-spacing:-0.03px;right:9.7px;">32830</span>
<span id="t78" style="top:111.4px;font-size:13px;line-height:17px;color:#cfcfcf;left:609.3px;letter-spacing:-0.20px;">卖五</span>
<span id="t79" style="top:110.9px;font-size:14px;line-height:18px;color:#e8e8e8;letter-spacing:-0.17px;right:144.2px;">1.093</span>
<span id="t80" style="top:110.9px;font-size:14px;line-height:18px;color:#ececec;right:11.0px;">58万</span>
<span id="t81" style="top:130.3px;font-size:13px;line-height:17px;color:#cfcfcf;left:609.3px;letter-spacing:-0.20px;">卖四</span>
<span id="t82" style="top:129.8px;font-size:14px;line-height:18px;color:#1fb955;letter-spacing:-0.17px;right:144.2px;">1.092</span>
<span id="t83" style="top:129.8px;font-size:14px;line-height:18px;color:#ececec;right:11.0px;">6万</span>
<span id="t84" style="top:149.2px;font-size:13px;line-height:17px;color:#cfcfcf;left:609.3px;letter-spacing:-0.20px;">卖三</span>
<span id="t85" style="top:148.7px;font-size:14px;line-height:18px;color:#1fb955;letter-spacing:-0.17px;right:144.2px;">1.091</span>
<span id="t86" style="top:148.7px;font-size:14px;line-height:18px;color:#ececec;right:11.0px;">7万</span>
<span id="t87" style="top:168.2px;font-size:13px;line-height:17px;color:#cfcfcf;left:609.3px;letter-spacing:-0.20px;">卖二</span>
<span id="t88" style="top:167.7px;font-size:14px;line-height:18px;color:#1fb955;letter-spacing:-0.17px;right:144.2px;">1.090</span>
<span id="t89" style="top:167.7px;font-size:14px;line-height:18px;color:#ececec;right:11.0px;">25万</span>
<span id="t90" style="top:187.1px;font-size:13px;line-height:17px;color:#cfcfcf;left:609.3px;letter-spacing:-0.20px;">卖一</span>
<span id="t91" style="top:186.6px;font-size:14px;line-height:18px;color:#1fb955;letter-spacing:-0.17px;right:144.2px;">1.089</span>
<span id="t92" style="top:186.6px;font-size:14px;line-height:18px;color:#ececec;right:11.0px;">1万</span>
<span id="t93" style="top:209.2px;font-size:13px;line-height:17px;color:#cfcfcf;left:609.3px;letter-spacing:-0.20px;">买一</span>
<span id="t94" style="top:208.7px;font-size:14px;line-height:18px;color:#1fb955;letter-spacing:-0.17px;right:144.2px;">1.088</span>
<span id="t95" style="top:208.7px;font-size:14px;line-height:18px;color:#ececec;right:11.0px;">53万</span>
<span id="t96" style="top:227.7px;font-size:13px;line-height:17px;color:#cfcfcf;left:609.3px;letter-spacing:-0.20px;">买二</span>
<span id="t97" style="top:227.2px;font-size:14px;line-height:18px;color:#1fb955;letter-spacing:-0.17px;right:144.2px;">1.087</span>
<span id="t98" style="top:227.2px;font-size:14px;line-height:18px;color:#ececec;right:11.0px;">238万</span>
<span id="t99" style="top:246.4px;font-size:13px;line-height:17px;color:#cfcfcf;left:609.3px;letter-spacing:-0.20px;">买三</span>
<span id="t100" style="top:245.9px;font-size:14px;line-height:18px;color:#1fb955;letter-spacing:-0.17px;right:144.2px;">1.086</span>
<span id="t101" style="top:245.9px;font-size:14px;line-height:18px;color:#ececec;right:11.0px;">110万</span>
<span id="t102" style="top:265.3px;font-size:13px;line-height:17px;color:#cfcfcf;left:609.3px;letter-spacing:-0.20px;">买四</span>
<span id="t103" style="top:264.8px;font-size:14px;line-height:18px;color:#1fb955;letter-spacing:-0.17px;right:144.2px;">1.085</span>
<span id="t104" style="top:264.8px;font-size:14px;line-height:18px;color:#ececec;right:11.0px;">28万</span>
<span id="t105" style="top:284.3px;font-size:13px;line-height:17px;color:#cfcfcf;left:609.3px;letter-spacing:-0.20px;">买五</span>
<span id="t106" style="top:283.8px;font-size:14px;line-height:18px;color:#1fb955;letter-spacing:-0.17px;right:144.2px;">1.084</span>
<span id="t107" style="top:283.8px;font-size:14px;line-height:18px;color:#ececec;right:11.0px;">24万</span>
<span id="t108" style="top:310.8px;font-size:13px;line-height:17px;color:#cfcfcf;left:609.3px;letter-spacing:-0.20px;">总量</span>
<span id="t109" style="top:310.3px;font-size:14px;line-height:18px;color:#e8e8e8;right:174.5px;">783.51万</span>
<span id="t110" style="top:310.8px;font-size:13px;line-height:17px;color:#cfcfcf;left:769.0px;letter-spacing:-0.20px;">换手</span>
<span id="t111" style="top:310.3px;font-size:14px;line-height:18px;color:#e8e8e8;right:10.4px;">15.21%</span>
<span id="t112" style="top:330.8px;font-size:13px;line-height:17px;color:#cfcfcf;left:609.3px;letter-spacing:-0.20px;">现手</span>
<span id="t113" style="top:330.3px;font-size:14px;line-height:18px;color:#e8e8e8;right:174.5px;">28297</span>
<span id="t114" style="top:330.8px;font-size:13px;line-height:17px;color:#cfcfcf;left:769.0px;letter-spacing:-0.20px;">量比</span>
<span id="t115" style="top:330.3px;font-size:14px;line-height:18px;color:#e8e8e8;right:10.4px;">1.31</span>
<span id="t116" style="top:350.9px;font-size:13px;line-height:17px;color:#cfcfcf;left:609.3px;letter-spacing:-0.20px;">外盘</span>
<span id="t117" style="top:350.4px;font-size:14px;line-height:18px;color:#e8323e;right:174.5px;">348.66万</span>
<span id="t118" style="top:350.9px;font-size:13px;line-height:17px;color:#cfcfcf;left:769.0px;letter-spacing:-0.20px;">内盘</span>
<span id="t119" style="top:350.4px;font-size:14px;line-height:18px;color:#1fb955;right:10.4px;">434.85万</span>
<span id="t120" style="top:371.0px;font-size:13px;line-height:17px;color:#cfcfcf;left:609.3px;letter-spacing:-0.20px;">总额</span>
<span id="t121" style="top:370.5px;font-size:14px;line-height:18px;color:#e8e8e8;right:174.5px;">8.71亿</span>
<span id="t122" style="top:371.0px;font-size:13px;line-height:17px;color:#cfcfcf;left:769.0px;letter-spacing:-0.20px;">振幅</span>
<span id="t123" style="top:370.5px;font-size:14px;line-height:18px;color:#e8e8e8;right:10.4px;">3.93%</span>
<span id="t124" style="top:391.1px;font-size:13px;line-height:17px;color:#cfcfcf;left:609.3px;letter-spacing:-0.20px;">均价</span>
<span id="t125" style="top:390.6px;font-size:14px;line-height:18px;color:#e8323e;right:174.5px;">1.112</span>
<span id="t126" style="top:391.1px;font-size:13px;line-height:17px;color:#cfcfcf;left:769.0px;letter-spacing:-0.20px;">开盘</span>
<span id="t127" style="top:390.6px;font-size:14px;line-height:18px;color:#e8323e;right:10.4px;">1.118</span>
<span id="t128" style="top:411.2px;font-size:13px;line-height:17px;color:#cfcfcf;left:609.3px;letter-spacing:-0.20px;">最高</span>
<span id="t129" style="top:410.7px;font-size:14px;line-height:18px;color:#e8323e;right:174.5px;">1.129</span>
<span id="t130" style="top:411.2px;font-size:13px;line-height:17px;color:#cfcfcf;left:769.0px;letter-spacing:-0.20px;">最低</span>
<span id="t131" style="top:410.7px;font-size:14px;line-height:18px;color:#1fb955;right:10.4px;">1.086</span>
<span id="t132" style="top:431.1px;font-size:13px;line-height:17px;color:#cfcfcf;left:609.3px;letter-spacing:-0.20px;">涨停</span>
<span id="t133" style="top:430.6px;font-size:14px;line-height:18px;color:#e8323e;right:174.5px;">1.312</span>
<span id="t134" style="top:431.1px;font-size:13px;line-height:17px;color:#cfcfcf;left:769.0px;letter-spacing:-0.20px;">跌停</span>
<span id="t135" style="top:430.6px;font-size:14px;line-height:18px;color:#1fb955;right:10.4px;">0.874</span>
<span id="t136" style="top:451.5px;font-size:13px;line-height:17px;color:#cfcfcf;left:609.3px;">IOPV</span>
<span id="t137" style="top:451.0px;font-size:14px;line-height:18px;color:#e8e8e8;right:176.4px;">1.0870</span>
<span id="t138" style="top:451.5px;font-size:13px;line-height:17px;color:#cfcfcf;left:773.5px;">溢折率</span>
<span id="t139" style="top:451.0px;font-size:14px;line-height:18px;color:#e8323e;right:11.7px;">0.18%</span>
<span id="t140" style="top:471.0px;font-size:13px;line-height:17px;color:#cfcfcf;left:609.3px;">净值</span>
<span id="t141" style="top:470.5px;font-size:14px;line-height:18px;color:#1fb955;right:176.4px;">1.0912</span>
<span id="t142" style="top:471.0px;font-size:13px;line-height:17px;color:#cfcfcf;left:773.5px;">升贴水率</span>
<span id="t143" style="top:470.5px;font-size:14px;line-height:18px;color:#1fb955;right:11.7px;">-0.20%</span>
<span id="t144" style="top:490.7px;font-size:13px;line-height:17px;color:#cfcfcf;left:609.3px;">流通盘</span>
<span id="t145" style="top:490.2px;font-size:14px;line-height:18px;color:#e8e8e8;right:176.4px;">51.52亿</span>
<span id="t146" style="top:490.7px;font-size:13px;line-height:17px;color:#cfcfcf;left:773.5px;">流通值</span>
<span id="t147" style="top:490.2px;font-size:14px;line-height:18px;color:#e8e8e8;right:11.7px;">56亿</span>
<span id="t148" style="top:513.0px;font-size:14px;line-height:18px;color:#bcbcbc;left:609.3px;letter-spacing:-0.29px;">14:56:57</span>
<span id="t149" style="top:513.0px;font-size:14px;line-height:18px;color:#1fb955;letter-spacing:-0.17px;right:143.6px;">1.087</span>
<span id="t150" style="top:513.0px;font-size:14px;line-height:18px;color:#1fb955;right:9.4px;">9万</span>
<span id="t151" style="top:533.5px;font-size:14px;line-height:18px;color:#bcbcbc;left:609.3px;letter-spacing:-0.29px;">14:57:00</span>
<span id="t152" style="top:533.5px;font-size:14px;line-height:18px;color:#1fb955;letter-spacing:-0.17px;right:143.6px;">1.087</span>
<span id="t153" style="top:533.5px;font-size:14px;line-height:18px;color:#1fb955;right:9.4px;">9万</span>
<span id="t154" style="top:553.5px;font-size:14px;line-height:18px;color:#bcbcbc;left:609.3px;letter-spacing:-0.29px;">15:00:00</span>
<span id="t155" style="top:553.5px;font-size:14px;line-height:18px;color:#1fb955;letter-spacing:-0.17px;right:143.6px;">1.089</span>
<span id="t156" style="top:553.5px;font-size:14px;line-height:18px;color:#1fb955;right:9.4px;">308万</span>
</div></body></html>
